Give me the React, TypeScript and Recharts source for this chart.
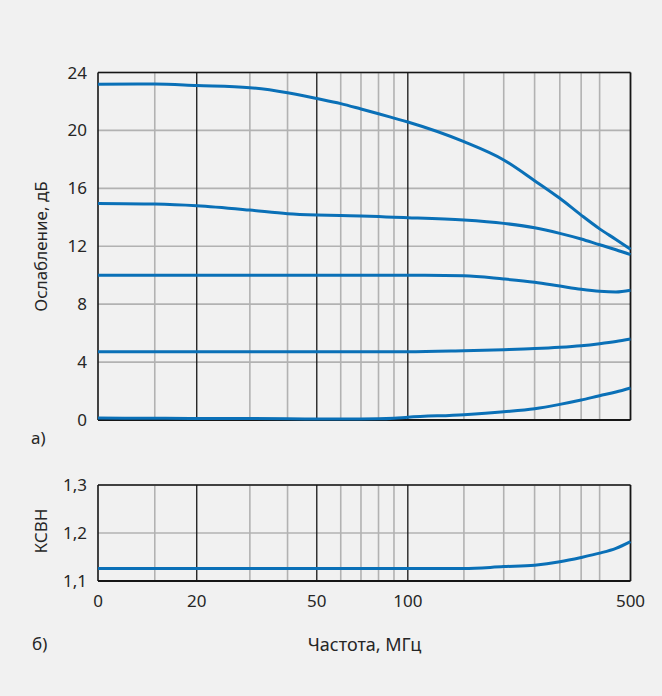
import React from 'react';
import { LineChart, Line, XAxis, YAxis, CartesianGrid, ReferenceLine, Label } from 'recharts';

// ---- data ----
const FREQ_MHZ = [0, 11.5, 20, 30, 40, 50, 60, 70, 80, 90, 100, 150, 200, 250, 300, 350, 400, 450, 500];
const ATT_A = [23.18, 23.2, 23.1, 22.95, 22.6, 22.2, 21.85, 21.48, 21.15, 20.85, 20.58, 19.22, 17.96, 16.53, 15.31, 14.15, 13.2, 12.47, 11.8];
const ATT_B = [14.96, 14.92, 14.8, 14.5, 14.25, 14.16, 14.12, 14.09, 14.05, 14.0, 13.97, 13.81, 13.58, 13.28, 12.89, 12.5, 12.1, 11.76, 11.42];
const ATT_C = [10, 10, 10, 10, 10, 10, 10, 10, 10, 10, 10, 9.97, 9.74, 9.51, 9.25, 9.03, 8.89, 8.84, 8.96];
const ATT_D = [4.72, 4.72, 4.72, 4.72, 4.72, 4.72, 4.72, 4.72, 4.72, 4.72, 4.72, 4.79, 4.86, 4.93, 5.02, 5.13, 5.27, 5.42, 5.59];
const ATT_E = [0.13, 0.12, 0.1, 0.1, 0.08, 0.07, 0.07, 0.07, 0.08, 0.12, 0.19, 0.37, 0.57, 0.78, 1.08, 1.38, 1.68, 1.93, 2.21];
const VSWR = [1.126, 1.126, 1.126, 1.126, 1.126, 1.126, 1.126, 1.126, 1.126, 1.126, 1.126, 1.126, 1.13, 1.133, 1.14, 1.149, 1.158, 1.168, 1.182];

const X_TICK_FREQS = [0, 20, 50, 100, 500];
const X_TICK_LABELS = ['0', '20', '50', '100', '500'];
const MINOR_FREQS = [11.5, 30, 40, 60, 70, 80, 90, 150, 200, 250, 300, 350, 400];
const MAJOR_FREQS = [20, 50, 100];
const ATT_TICKS = [0, 4, 8, 12, 16, 20, 24];
const VSWR_TICKS = [1.1, 1.2, 1.3];
const VSWR_TICK_LABELS = ['1,1', '1,2', '1,3'];

// ---- axis scale definition: piecewise (linear 0-20, logarithmic above) ----
const SEGMENT_LENGTHS = [98.7, 120, 91, 222.6];
const SEG_START: number[] = [];
SEGMENT_LENGTHS.reduce((acc, l, i) => { SEG_START[i] = acc; return acc + l; }, 0);
const TOTAL = SEGMENT_LENGTHS.reduce((a, b) => a + b, 0);

function toPos(f: number): number {
  for (let i = 0; i < X_TICK_FREQS.length - 1; i++) {
    const a = X_TICK_FREQS[i];
    const b = X_TICK_FREQS[i + 1];
    if (f <= b || i === X_TICK_FREQS.length - 2) {
      const frac = i === 0 ? (f - a) / (b - a) : Math.log(f / a) / Math.log(b / a);
      return SEG_START[i] + frac * SEGMENT_LENGTHS[i];
    }
  }
  return TOTAL;
}

const rows = FREQ_MHZ.map((f, i) => ({
  pos: toPos(f),
  a: ATT_A[i],
  b: ATT_B[i],
  c: ATT_C[i],
  d: ATT_D[i],
  e: ATT_E[i],
  v: VSWR[i],
}));

const X_TICK_POS = X_TICK_FREQS.map(toPos);
const xTickFmt = (v: number) => {
  let best = 0;
  X_TICK_POS.forEach((p, i) => { if (Math.abs(p - v) < Math.abs(X_TICK_POS[best] - v)) best = i; });
  return X_TICK_LABELS[best];
};
const vswrFmt = (v: number) => {
  let best = 0;
  VSWR_TICKS.forEach((p, i) => { if (Math.abs(p - v) < Math.abs(VSWR_TICKS[best] - v)) best = i; });
  return VSWR_TICK_LABELS[best];
};

const FONT = '"Noto Sans", "Open Sans", sans-serif';
const FS = 17;
const TEXT = '#262626';
const BLUE = '#0a70b7';
const MINOR = '#b2b2b2';
const MAJOR = '#161616';
const tickStyle = { fill: TEXT, fontSize: FS, fontFamily: FONT };

const txt = (x: number, y: number, s: string, rotate = false, anchor = 'middle', size = FS) => () => (
  <text
    x={x}
    y={y}
    textAnchor={anchor}
    dominantBaseline={rotate ? 'central' : 'alphabetic'}
    transform={rotate ? `rotate(-90 ${x} ${y})` : undefined}
    fill={TEXT}
    fontSize={size}
    fontFamily={FONT}
  >
    {s}
  </text>
);

function gridLines(yMin: number, yMax: number) {
  return [
    ...MINOR_FREQS.map((f) => (
      <ReferenceLine key={'mi' + f} x={toPos(f)} stroke={MINOR} strokeWidth={1.6} />
    )),
    ...MAJOR_FREQS.map((f) => (
      <ReferenceLine key={'ma' + f} x={toPos(f)} stroke={MAJOR} strokeWidth={1.3} />
    )),
    <ReferenceLine key="b1" y={yMin} stroke={MAJOR} strokeWidth={1.8} />,
    <ReferenceLine key="b2" y={yMax} stroke={MAJOR} strokeWidth={1.6} />,
    <ReferenceLine key="b3" x={0} stroke={MAJOR} strokeWidth={1.6} />,
    <ReferenceLine key="b4" x={TOTAL} stroke={MAJOR} strokeWidth={1.8} />,
  ];
}

export default function App() {
  return (
    <div style={{ position: 'relative', width: 662, height: 696, background: '#f1f1f1', overflow: 'hidden' }}>
      <style>{`body{margin:0}`}</style>
      <div style={{ position: 'absolute', left: 0, top: 0 }}>
        <LineChart width={662} height={460} data={rows} margin={{ top: 72.5, right: 31.5, bottom: 40, left: 38 }}>
          <CartesianGrid vertical={false} stroke={MINOR} strokeWidth={1.6} />
          <XAxis type="number" dataKey="pos" domain={[0, TOTAL]} hide />
          <YAxis
            type="number"
            domain={[0, 24]}
            ticks={ATT_TICKS}
            interval={0}
            width={60}
            axisLine={false}
            tickLine={false}
            tickSize={0}
            tickMargin={11}
            tick={tickStyle}
          >
            <Label content={txt(40, 246.5, 'Ослабление, дБ', true)} />
            <Label content={txt(31, 444, 'а)', false, 'start')} />
          </YAxis>
          {gridLines(0, 24)}
          <Line dataKey="a" type="monotone" stroke={BLUE} strokeWidth={3} dot={false} isAnimationActive={false} />
          <Line dataKey="b" type="monotone" stroke={BLUE} strokeWidth={3} dot={false} isAnimationActive={false} />
          <Line dataKey="c" type="monotone" stroke={BLUE} strokeWidth={3} dot={false} isAnimationActive={false} />
          <Line dataKey="d" type="monotone" stroke={BLUE} strokeWidth={3} dot={false} isAnimationActive={false} />
          <Line dataKey="e" type="monotone" stroke={BLUE} strokeWidth={3} dot={false} isAnimationActive={false} />
        </LineChart>
      </div>
      <div style={{ position: 'absolute', left: 0, top: 0 }}>
        <LineChart width={662} height={696} data={rows} margin={{ top: 485, right: 31.5, bottom: 85, left: 38 }}>
          <CartesianGrid vertical={false} stroke={MINOR} strokeWidth={1.6} />
          <XAxis
            type="number"
            dataKey="pos"
            domain={[0, TOTAL]}
            ticks={X_TICK_POS}
            interval={0}
            tickFormatter={xTickFmt}
            height={30}
            axisLine={false}
            tickLine={false}
            tickSize={0}
            tickMargin={13.5}
            tick={tickStyle}
          >
            <Label content={txt(364.5, 651, 'Частота, МГц', false, 'middle', 18)} />
            <Label content={txt(32, 650, 'б)', false, 'start')} />
          </XAxis>
          <YAxis
            type="number"
            domain={[1.1, 1.3]}
            ticks={VSWR_TICKS}
            interval={0}
            tickFormatter={vswrFmt}
            width={60}
            axisLine={false}
            tickLine={false}
            tickSize={0}
            tickMargin={11}
            tick={tickStyle}
          >
            <Label content={txt(40, 531, 'КСВН', true)} />
          </YAxis>
          {gridLines(1.1, 1.3)}
          <Line dataKey="v" type="monotone" stroke={BLUE} strokeWidth={3} dot={false} isAnimationActive={false} />
        </LineChart>
      </div>
    </div>
  );
}
